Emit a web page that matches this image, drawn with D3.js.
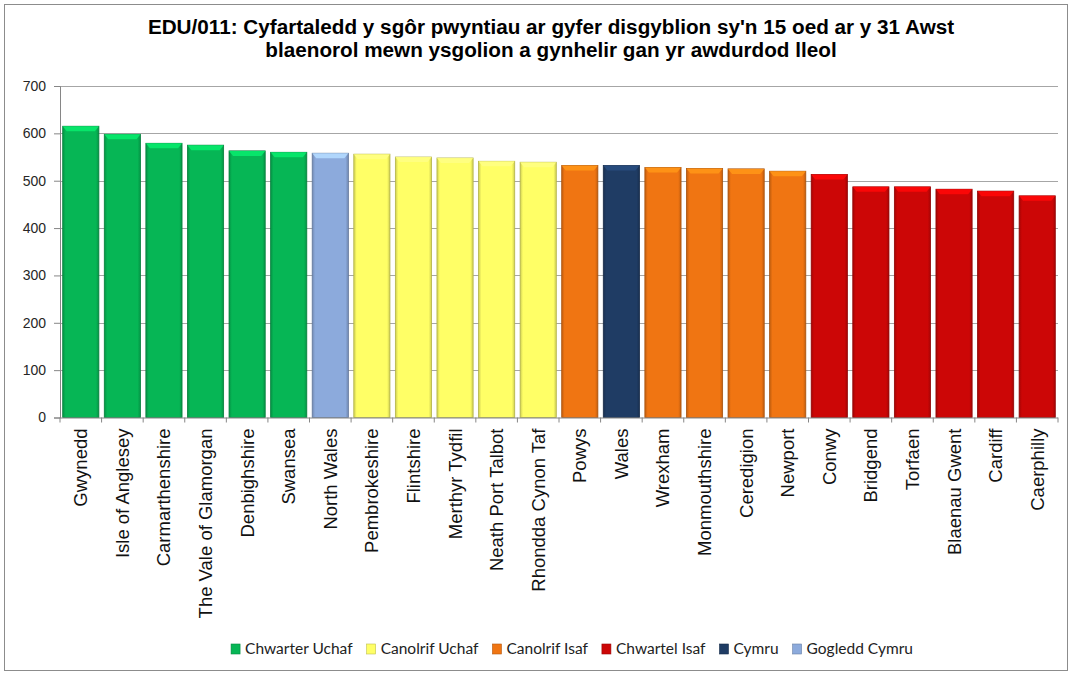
<!DOCTYPE html>
<html>
<head>
<meta charset="utf-8">
<script src="https://cdn.jsdelivr.net/npm/d3@7"></script>
<style>
  body { margin: 0; background: #fff; }
  svg { display: block; }
</style>
</head>
<body>
<div id="chart"></div>
<script>
// data
var areas = ["Gwynedd", "Isle of Anglesey", "Carmarthenshire", "The Vale of Glamorgan", "Denbighshire", "Swansea",
  "North Wales", "Pembrokeshire", "Flintshire", "Merthyr Tydfil", "Neath Port Talbot", "Rhondda Cynon Taf",
  "Powys", "Wales", "Wrexham", "Monmouthshire", "Ceredigion", "Newport",
  "Conwy", "Bridgend", "Torfaen", "Blaenau Gwent", "Cardiff", "Caerphilly"];
var scores = [615, 598, 579, 575, 563, 560, 558, 556, 550, 548, 541, 539,
  532, 532, 528, 526, 525, 520, 513, 487, 487, 482, 478, 468];
var groups = ["Chwarter Uchaf", "Chwarter Uchaf", "Chwarter Uchaf", "Chwarter Uchaf", "Chwarter Uchaf", "Chwarter Uchaf",
  "Gogledd Cymru", "Canolrif Uchaf", "Canolrif Uchaf", "Canolrif Uchaf", "Canolrif Uchaf", "Canolrif Uchaf",
  "Canolrif Isaf", "Cymru", "Canolrif Isaf", "Canolrif Isaf", "Canolrif Isaf", "Canolrif Isaf",
  "Chwartel Isaf", "Chwartel Isaf", "Chwartel Isaf", "Chwartel Isaf", "Chwartel Isaf", "Chwartel Isaf"];
var legendNames = ["Chwarter Uchaf", "Canolrif Uchaf", "Canolrif Isaf", "Chwartel Isaf", "Cymru", "Gogledd Cymru"];
var legendColors = ["#06b655", "#ffff66", "#f07512", "#cc0606", "#1f3c64", "#8caadc"];
var yTicks = [0, 100, 200, 300, 400, 500, 600, 700];
var titleLines = ["EDU/011: Cyfartaledd y sgôr pwyntiau ar gyfer disgyblion sy'n 15 oed ar y 31 Awst",
  "blaenorol mewn ysgolion a gynhelir gan yr awdurdod lleol"];

var width = 1072, height = 675;
var plot = {left: 60, right: 1058, top: 86, bottom: 417.5};

var svg = d3.select("#chart").append("svg")
    .attr("width", width)
    .attr("height", height);

// outer frame
svg.append("rect")
    .attr("x", 4.5).attr("y", 4.5)
    .attr("width", 1063).attr("height", 666)
    .attr("fill", "#fff")
    .attr("stroke", "#8c8c8c")
    .attr("stroke-width", 1);

svg.append("g")
    .selectAll("text")
    .data(titleLines)
    .enter()
    .append("text")
    .attr("x", 551)
    .attr("y", function (d, i) { return 34 + i * 23; })
    .attr("text-anchor", "middle")
    .style("font-family", "Liberation Sans, Arial, sans-serif")
    .style("font-weight", "bold")
    .style("font-size", "20.7px")
    .text(function (d) { return d; });

var x = d3.scaleBand()
    .domain(areas)
    .range([plot.left, plot.right])
    .paddingInner(0.13)
    .paddingOuter(0.065);

var y = d3.scaleLinear()
    .domain([0, 700])
    .range([plot.bottom, plot.top]);

var color = d3.scaleOrdinal()
    .domain(legendNames)
    .range(legendColors);

// gridlines
svg.append("g")
    .selectAll("line")
    .data(yTicks.slice(1))
    .enter()
    .append("line")
    .attr("x1", plot.left).attr("x2", plot.right)
    .attr("y1", function (d) { return Math.round(y(d)) + 0.5; })
    .attr("y2", function (d) { return Math.round(y(d)) + 0.5; })
    .attr("stroke", "#a6a6a6")
    .attr("stroke-width", 1);

// gradients for the bevelled look
var defs = svg.append("defs");
legendColors.forEach(function (c, i) {
    var g = defs.append("linearGradient")
        .attr("id", "grad" + i)
        .attr("x1", "0").attr("x2", "1").attr("y1", "0").attr("y2", "0");
    var base = d3.color(c);
    g.append("stop").attr("offset", "0%").attr("stop-color", base.darker(0.6));
    g.append("stop").attr("offset", "8%").attr("stop-color", c);
    g.append("stop").attr("offset", "92%").attr("stop-color", c);
    g.append("stop").attr("offset", "100%").attr("stop-color", base.darker(0.6));
});

var bars = svg.append("g")
    .selectAll("g")
    .data(areas)
    .enter()
    .append("g");

bars.append("rect")
    .attr("x", function (d) { return x(d); })
    .attr("y", function (d, i) { return y(scores[i]); })
    .attr("width", x.bandwidth())
    .attr("height", function (d, i) { return y(0) - y(scores[i]); })
    .attr("fill", function (d, i) { return "url(#grad" + legendNames.indexOf(groups[i]) + ")"; })
    .attr("stroke", function (d, i) { return d3.color(color(groups[i])).darker(1); })
    .attr("stroke-width", 0.8);

// top bevel
bars.append("path")
    .attr("d", function (d, i) {
        var x0 = x(d), x1 = x(d) + x.bandwidth(), t = y(scores[i]);
        return "M" + x0 + "," + t + "L" + x1 + "," + t + "L" + (x1 - 4) + "," + (t + 5) + "L" + (x0 + 4) + "," + (t + 5) + "Z";
    })
    .attr("fill", function (d, i) { return d3.color(color(groups[i])).brighter(0.7); })
    .attr("opacity", 0.9);

// axes
var yAxis = svg.append("g")
    .attr("transform", "translate(" + plot.left + ",0)")
    .call(d3.axisLeft(y).tickValues(yTicks).tickSize(6).tickPadding(8));
yAxis.select(".domain").attr("stroke", "#868686");
yAxis.selectAll(".tick line").attr("stroke", "#868686");
yAxis.selectAll("text")
    .style("font-family", "Liberation Sans, Arial, sans-serif")
    .style("font-size", "14px")
    .attr("fill", "#262626");

var xAxis = svg.append("g")
    .attr("transform", "translate(0," + plot.bottom + ")");
xAxis.append("line")
    .attr("x1", plot.left).attr("x2", plot.right)
    .attr("y1", 0.5).attr("y2", 0.5)
    .attr("stroke", "#868686");
xAxis.selectAll(".sep")
    .data(d3.range(areas.length + 1))
    .enter()
    .append("line")
    .attr("x1", function (i) { return plot.left + i * x.step(); })
    .attr("x2", function (i) { return plot.left + i * x.step(); })
    .attr("y1", 0).attr("y2", 5)
    .attr("stroke", "#868686");
xAxis.selectAll(".lbl")
    .data(areas)
    .enter()
    .append("text")
    .attr("transform", function (d) {
        return "translate(" + (x(d) + x.bandwidth() / 2 + 6.5) + ",11) rotate(-90)";
    })
    .attr("text-anchor", "end")
    .style("font-family", "Liberation Sans, Arial, sans-serif")
    .style("font-size", "18.5px")
    .attr("fill", "#111")
    .text(function (d) { return d; });

// legend, laid out from the text widths and centred under the plot
var legend = svg.append("g");
var items = legend.selectAll("g")
    .data(legendNames)
    .enter()
    .append("g");
items.append("rect")
    .attr("x", 0).attr("y", -5)
    .attr("width", 9).attr("height", 10)
    .attr("fill", function (d) { return color(d); })
    .attr("stroke", function (d) { return d3.color(color(d)).darker(0.8); })
    .attr("stroke-width", 0.6);
items.append("text")
    .attr("x", 14).attr("y", 5)
    .style("font-family", "Lato, sans-serif")
    .style("font-size", "15.5px")
    .attr("fill", "#222")
    .text(function (d) { return d; });
var pos = 0;
items.each(function () {
    var w = d3.select(this).select("text").node().getComputedTextLength();
    d3.select(this).attr("transform", "translate(" + pos + ",0)");
    pos += 14 + w + 14;
});
pos -= 14;
legend.attr("transform", "translate(" + (572 - pos / 2) + ",649)");
</script>
</body>
</html>
